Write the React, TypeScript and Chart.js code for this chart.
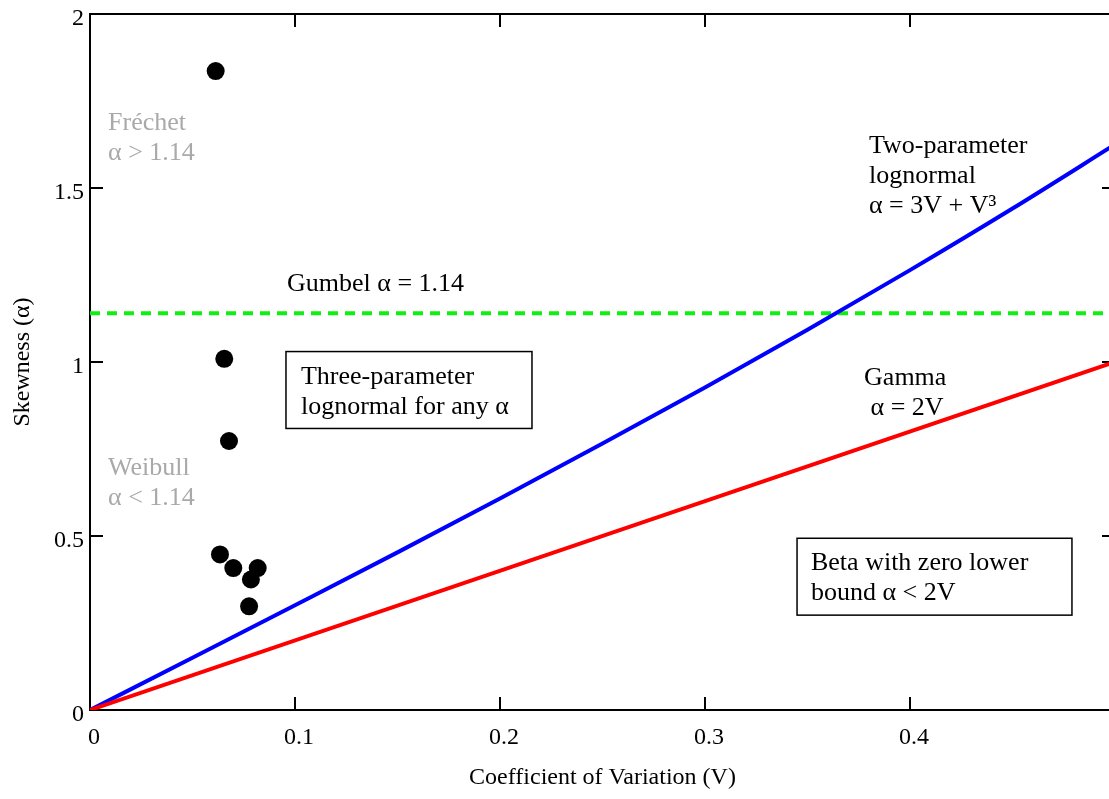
import React, { useEffect, useRef } from "react";
import { Chart, registerables } from "chart.js";

Chart.register(...registerables);

// Observed samples (coefficient of variation V, skewness α)
const sampleV = [0.0613, 0.0655, 0.0678, 0.0634, 0.0699, 0.0818, 0.0785, 0.0776];
const sampleSkew = [1.836, 1.009, 0.773, 0.447, 0.408, 0.408, 0.375, 0.298];

// Two-parameter lognormal curve
const lognormalV = [0, 0.05, 0.1, 0.15, 0.2, 0.25, 0.3, 0.35, 0.4, 0.45, 0.5];
const lognormalSkew = [0, 0.15, 0.301, 0.453, 0.608, 0.766, 0.927, 1.093, 1.264, 1.441, 1.625];

// Gamma line
const gammaV = [0, 0.5];
const gammaSkew = [0, 1.0];

// Gumbel reference line
const gumbelV = [0, 0.5];
const gumbelSkew = [1.14, 1.14];

// Axis ticks
const xTickLabels = ["0", "0.1", "0.2", "0.3", "0.4", ""];
const yTickLabels = ["0", "0.5", "1", "1.5", "2"];

const xTitle = "Coefficient of Variation (V)";
const yTitle = "Skewness (α)";

// Text annotations (anchored in data coordinates: left edge, centre of first line)
const notes = [
  { lines: ["Fréchet", "α > 1.14"], x: 0.0088, y: 1.687, color: "#a9a9a9" },
  { lines: ["Weibull", "α < 1.14"], x: 0.0088, y: 0.694, color: "#a9a9a9" },
  { lines: ["Gumbel α = 1.14"], x: 0.0961, y: 1.225, color: "#000" },
  { lines: ["Three-parameter", "lognormal for any α"], x: 0.1029, y: 0.9555, color: "#000" },
  { lines: ["Two-parameter", "lognormal", "α = 3V + V³"], x: 0.38, y: 1.621, color: "#000" },
  { lines: ["Gamma", " α = 2V"], x: 0.3776, y: 0.953, color: "#000" },
  { lines: ["Beta with zero lower", "bound α < 2V"], x: 0.3517, y: 0.4218, color: "#000" },
];

// Boxes (data coordinates)
const boxes = [
  { x1: 0.0956, x2: 0.2156, y1: 1.03, y2: 0.809 },
  { x1: 0.3449, x2: 0.479, y1: 0.4935, y2: 0.2726 },
];

const FONT = "'Liberation Serif', 'Times New Roman', serif";

export default function App() {
  const ref = useRef<HTMLCanvasElement | null>(null);

  useEffect(() => {
    const canvas = ref.current;
    if (!canvas) return;

    const framePlugin = {
      id: "frame",
      beforeDatasetsDraw(chart: any) {
        const { ctx, chartArea } = chart;
        const xs = chart.scales.x;
        const ys = chart.scales.y;
        ctx.save();
        ctx.strokeStyle = "#000";
        ctx.lineWidth = 2;
        ctx.strokeRect(chartArea.left, chartArea.top, chartArea.right - chartArea.left, chartArea.bottom - chartArea.top);
        const tl = 13;
        ctx.beginPath();
        xs.ticks.forEach((t: any) => {
          const px = xs.getPixelForValue(t.value);
          ctx.moveTo(px, chartArea.bottom);
          ctx.lineTo(px, chartArea.bottom - tl);
          ctx.moveTo(px, chartArea.top);
          ctx.lineTo(px, chartArea.top + tl);
        });
        ys.ticks.forEach((t: any) => {
          const py = ys.getPixelForValue(t.value);
          ctx.moveTo(chartArea.left, py);
          ctx.lineTo(chartArea.left + tl, py);
          ctx.moveTo(chartArea.right, py);
          ctx.lineTo(chartArea.right - tl, py);
        });
        ctx.stroke();
        ctx.restore();
      },
      afterDatasetsDraw(chart: any) {
        const { ctx } = chart;
        const xs = chart.scales.x;
        const ys = chart.scales.y;
        ctx.save();
        ctx.strokeStyle = "#000";
        ctx.lineWidth = 1.5;
        boxes.forEach((b) => {
          const x1 = xs.getPixelForValue(b.x1);
          const x2 = xs.getPixelForValue(b.x2);
          const y1 = ys.getPixelForValue(b.y1);
          const y2 = ys.getPixelForValue(b.y2);
          ctx.fillStyle = "#fff";
          ctx.fillRect(x1, y1, x2 - x1, y2 - y1);
          ctx.strokeRect(x1, y1, x2 - x1, y2 - y1);
        });
        ctx.font = `26px ${FONT}`;
        ctx.textAlign = "left";
        ctx.textBaseline = "middle";
        notes.forEach((n) => {
          const px = xs.getPixelForValue(n.x);
          const py = ys.getPixelForValue(n.y);
          ctx.fillStyle = n.color;
          n.lines.forEach((line, i) => {
            ctx.fillText(line, px, py + i * 30);
          });
        });
        ctx.restore();
      },
    };

    const toPts = (xs: number[], ys: number[]) => xs.map((x, i) => ({ x, y: ys[i] }));

    const chart = new Chart(canvas, {
      type: "scatter",
      data: {
        datasets: [
          {
            label: "Gamma",
            data: toPts(gammaV, gammaSkew),
            showLine: true,
            borderColor: "#ff0000",
            borderWidth: 4,
            pointRadius: 0,
          },
          {
            label: "Two-parameter lognormal",
            data: toPts(lognormalV, lognormalSkew),
            showLine: true,
            borderColor: "#0000ff",
            borderWidth: 4,
            pointRadius: 0,
            cubicInterpolationMode: "monotone",
          },
          {
            label: "Gumbel",
            data: toPts(gumbelV, gumbelSkew),
            showLine: true,
            borderColor: "#11ee11",
            borderWidth: 4,
            borderDash: [10, 7],
            pointRadius: 0,
          },
          {
            label: "Samples",
            data: toPts(sampleV, sampleSkew),
            backgroundColor: "#000",
            borderWidth: 0,
            pointRadius: 9,
          },
        ],
      },
      options: {
        responsive: false,
        animation: false,
        layout: { padding: { top: 14, right: 10, left: 0, bottom: 0 } },
        plugins: { legend: { display: false }, tooltip: { enabled: false } },
        scales: {
          x: {
            type: "linear",
            min: 0,
            max: 0.5,
            afterFit: (s: any) => {
              s.height = 89;
              s.paddingLeft = 0;
              s.paddingRight = 0;
            },
            grid: { display: false, drawTicks: false },
            border: { display: false },
            ticks: {
              stepSize: 0.1,
              autoSkip: false,
              maxRotation: 0,
              padding: 13,
              labelOffset: 4,
              color: "#000",
              font: { family: FONT, size: 24 },
              callback: (_v: any, i: number) => xTickLabels[i],
            },
            title: {
              display: true,
              text: xTitle,
              color: "#000",
              font: { family: FONT, size: 24 },
              padding: { top: 0, bottom: 7 },
            },
          },
          y: {
            type: "linear",
            min: 0,
            max: 2,
            afterFit: (s: any) => {
              s.width = 90;
              s.paddingTop = 0;
              s.paddingBottom = 0;
            },
            grid: { display: false, drawTicks: false },
            border: { display: false },
            ticks: {
              stepSize: 0.5,
              autoSkip: false,
              padding: 6,
              labelOffset: 5,
              color: "#000",
              font: { family: FONT, size: 24 },
              callback: (_v: any, i: number) => yTickLabels[i],
            },
            title: {
              display: true,
              text: yTitle,
              color: "#000",
              font: { family: FONT, size: 24 },
              padding: { top: 8, bottom: 0 },
            },
          },
        },
      },
      plugins: [framePlugin],
    });

    return () => chart.destroy();
  }, []);

  return (
    <div style={{ position: "fixed", left: 0, top: 0, width: "100vw", height: "100vh", overflow: "hidden", background: "#fff" }}>
      <canvas ref={ref} width={1125} height={799} style={{ display: "block", width: 1125, height: 799 }} />
    </div>
  );
}
